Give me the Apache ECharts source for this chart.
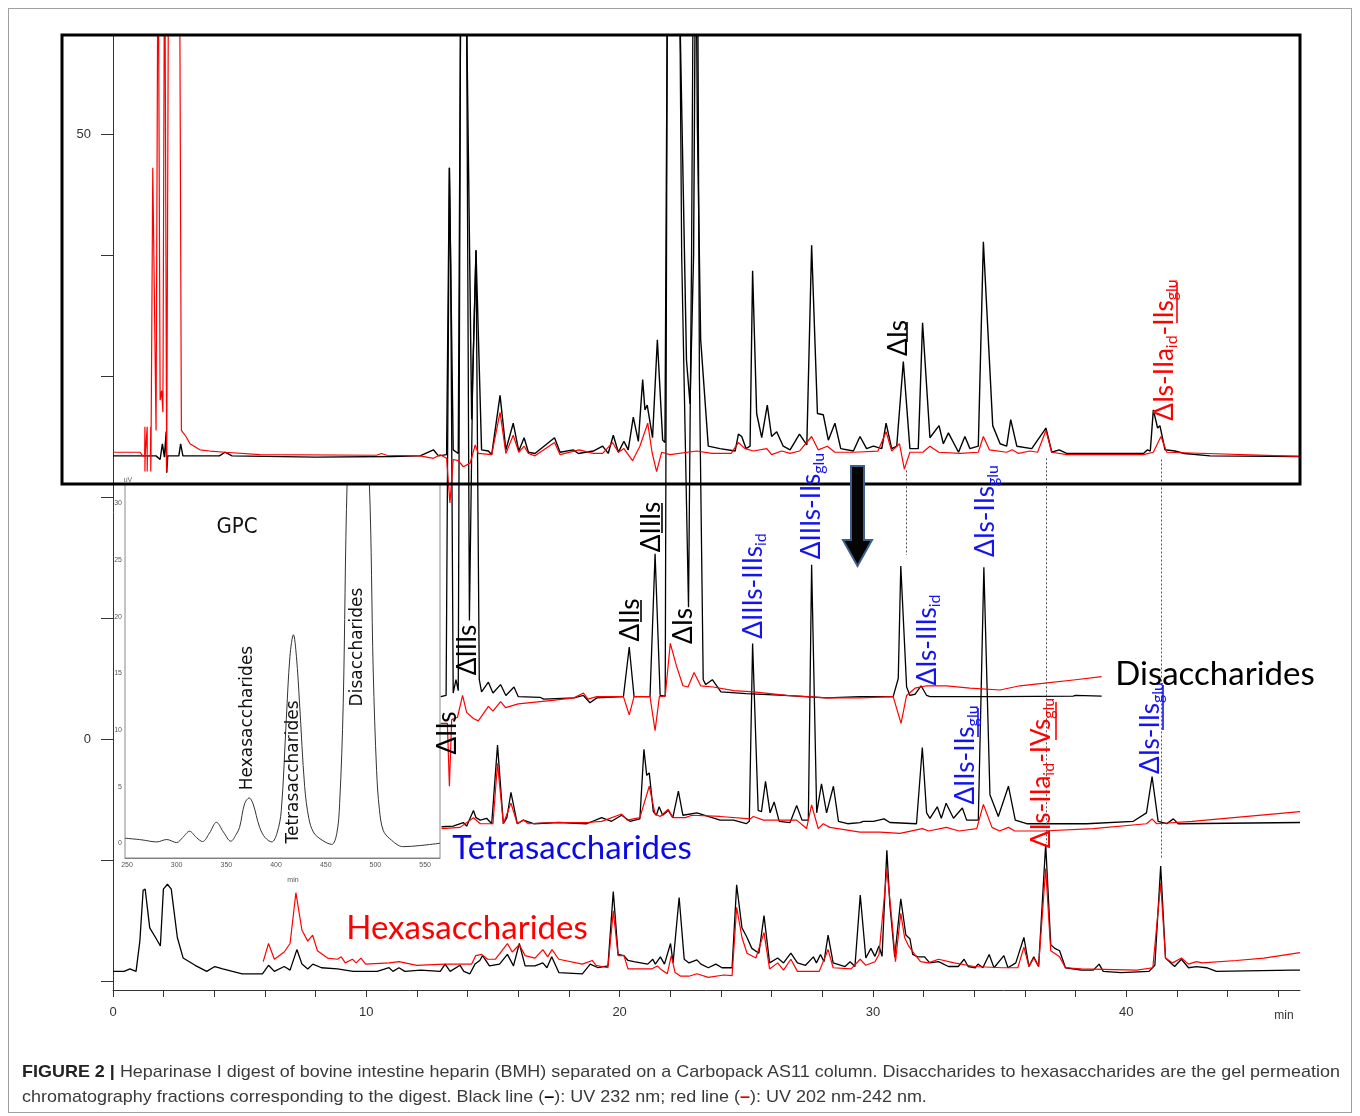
<!DOCTYPE html>
<html><head><meta charset="utf-8">
<script src="https://cdn.jsdelivr.net/npm/echarts@6/dist/echarts.min.js"></script>
<style>
html,body{margin:0;padding:0;background:#fff;}
#chart{position:absolute;left:0;top:0;width:1360px;height:1116px;}
#frame{position:absolute;left:8px;top:8px;width:1344px;height:1105px;border:1px solid #a0a0a0;box-sizing:border-box;pointer-events:none;}
.cap{position:absolute;left:22px;white-space:nowrap;font-family:'Liberation Sans Narrow','Liberation Sans',Arial,sans-serif;font-size:17px;line-height:20px;color:#3a3a3a;transform-origin:0 50%;}
.cap b.fig{color:#222;}
</style></head>
<body>
<div id="chart"></div>
<div id="frame"></div>
<div class="cap" id="cap1" style="top:1062px"><b class="fig">FIGURE 2 |</b> Heparinase I digest of bovine intestine heparin (BMH) separated on a Carbopack AS11 column. Disaccharides to hexasaccharides are the gel permeation</div>
<div class="cap" id="cap2" style="top:1087px">chromatography fractions corresponding to the digest. Black line (<b style="color:#000">&#8211;</b>): UV 232 nm; red line (<b style="color:#e00000">&#8211;</b>): UV 202 nm-242 nm.</div>
<script>
// ---------------- DATA (time in min, signal) ----------------
const topBlack = [[0,23.4],[1.7,23.4],[1.86,23.1],[1.95,24.4],[2.03,23.3],[2.1,25.4],[2.12,22.0],[2.16,23.4],[2.6,23.4],[2.67,24.4],[2.76,23.4],[4.2,23.4],[4.42,23.7],[4.7,23.4],[8,23.3],[11,23.35],[12.12,23.4],[12.65,23.9],[12.85,23.4],[13.17,23.5],[13.28,47.2],[13.33,39.3],[13.43,23.9],[13.63,23.6],[13.72,60],[13.84,95],[13.96,60],[14.16,26.4],[14.33,40.4],[14.55,23.9],[14.82,23.8],[14.95,23.5],[15.28,28.4],[15.51,23.9],[15.8,26.1],[16.02,23.8],[16.23,24.9],[16.4,23.7],[16.66,23.6],[17.43,24.9],[17.65,23.7],[18.17,23.9],[18.37,23.6],[18.96,23.8],[19.33,24.2],[19.55,23.6],[19.75,25.1],[19.95,23.7],[20.17,24.6],[20.34,23.9],[20.54,26.6],[20.74,24.6],[20.91,29.7],[21.0,27.2],[21.09,27.6],[21.3,24.9],[21.49,33.0],[21.7,24.7],[21.79,24.5],[21.88,60],[22.1,95],[22.38,60],[22.64,31.3],[22.78,27.7],[22.92,40],[22.98,60],[23.03,62],[23.07,50.7],[23.2,33],[23.5,24.2],[23.96,24.0],[24.56,23.8],[24.69,25.2],[24.82,25.0],[24.99,24.0],[25.15,24.2],[25.25,38.7],[25.41,26.9],[25.61,24.9],[25.83,27.6],[26.0,25.0],[26.2,25.4],[26.46,24.2],[26.73,23.9],[27.1,25.2],[27.39,24.3],[27.58,40.8],[27.81,26.9],[28.04,26.8],[28.24,24.7],[28.5,26.1],[28.73,24.0],[29.23,23.8],[29.49,25.0],[29.75,24.0],[30.02,24.2],[30.35,24.0],[30.52,26.1],[30.74,24.0],[30.94,24.2],[31.2,31.2],[31.46,24.0],[31.79,24.0],[31.96,34.4],[32.25,24.9],[32.61,25.9],[32.78,24.4],[32.98,25.3],[33.38,23.7],[33.63,25.0],[33.83,24.0],[34.16,24.2],[34.36,41.1],[34.73,25.9],[35.02,24.4],[35.28,24.2],[35.44,26.4],[35.68,24.2],[36.27,24.0],[36.83,25.7],[37.06,23.7],[37.35,23.9],[37.65,23.6],[40.68,23.6],[40.84,23.9],[40.95,23.8],[41.07,27.2],[41.24,25.7],[41.33,25.9],[41.53,23.9],[41.92,23.8],[42.3,23.6],[43.31,23.4],[46.86,23.35]];
const topRed = [[0,23.7],[1.07,23.7],[1.17,23.4],[1.25,23.4],[1.26,25.8],[1.26,22.1],[1.27,23.4],[1.34,23.4],[1.35,25.8],[1.35,22.1],[1.36,23.4],[1.48,23.4],[1.49,25.8],[1.49,22.1],[1.5,23.4],[1.57,47.2],[1.70,25.5],[1.78,70],[1.86,28],[1.92,28.8],[1.97,27],[2.04,70],[2.12,22.1],[2.2,70],[2.62,70],[2.7,25.5],[2.88,25.0],[3.04,24.4],[3.43,23.9],[3.83,23.8],[4.42,23.7],[5.8,23.5],[10.4,23.45],[10.6,23.6],[10.8,23.45],[12.12,23.4],[12.65,23.2],[12.91,23.5],[13.17,23.2],[13.3,19.5],[13.43,23.1],[13.63,23.0],[13.83,22.5],[14.1,22.8],[14.3,24.3],[14.42,23.6],[14.95,23.5],[15.28,27.0],[15.51,23.6],[15.8,25.1],[16.02,23.7],[16.23,24.2],[16.4,23.6],[16.66,23.4],[17.43,24.5],[17.65,23.5],[18.4,23.9],[18.96,23.6],[19.33,23.6],[19.72,24.5],[19.95,23.7],[20.17,24.0],[20.51,23.0],[20.8,24.2],[21.11,26.1],[21.28,23.7],[21.46,22.1],[21.66,23.7],[21.99,23.5],[23.04,23.8],[23.64,23.6],[24.4,23.6],[24.69,24.5],[24.95,24.0],[25.28,23.8],[25.81,24.0],[26.0,23.5],[26.4,23.8],[26.73,23.6],[27.1,23.8],[27.58,25.0],[27.84,23.9],[28.2,24.2],[28.5,23.7],[29.23,23.7],[30.2,23.8],[30.52,25.4],[30.74,23.8],[31.05,24.4],[31.24,22.3],[31.46,23.7],[31.97,23.7],[32.25,24.2],[32.6,23.7],[33.45,23.6],[34.16,23.7],[34.36,25.0],[34.6,23.9],[35.28,23.7],[35.5,23.9],[35.75,23.6],[36.2,23.8],[36.5,23.7],[36.83,25.5],[37.06,23.7],[37.65,23.5],[40.68,23.5],[41.07,23.7],[41.37,25.0],[41.6,23.7],[46.86,23.35]];
const diBlack = [[12.94,3.5],[13.15,3.6],[13.28,47.2],[13.33,39.3],[13.43,3.8],[13.54,4.9],[13.63,4.0],[13.72,60],[13.84,95],[13.96,60],[14.07,9.8],[14.2,30],[14.33,40.4],[14.46,4.9],[14.55,3.9],[14.82,4.7],[15.0,3.8],[15.3,4.5],[15.51,3.6],[15.83,4.3],[16.0,3.5],[16.86,3.45],[17.0,3.3],[18.2,3.4],[18.57,3.6],[18.83,3.0],[19.1,3.4],[20.15,3.5],[20.38,7.6],[20.57,3.5],[21.2,3.5],[21.4,15.3],[21.6,3.6],[21.8,3.55],[21.88,60],[22.1,95],[22.38,60],[22.45,40],[22.72,10.9],[22.84,40],[22.95,80],[23.05,80],[23.15,30],[23.3,4.9],[23.4,4.5],[23.66,4.9],[24.0,3.9],[25.0,3.75],[26.5,3.6],[28.17,3.4],[29.49,3.5],[30.8,3.5],[31.0,5],[31.1,14.3],[31.33,4.3],[31.46,3.6],[31.66,3.7],[31.9,4.4],[32.12,3.6],[32.25,3.5],[35.0,3.5],[37.9,3.55],[38.0,3.6],[39.03,3.55]];
const diRed = [[12.94,1.3],[13.2,1.3],[13.28,-3.9],[13.37,1.6],[13.6,1.8],[13.8,3.6],[13.96,2.2],[14.23,1.7],[14.42,1.5],[14.82,2.7],[15.0,2.3],[15.3,3.1],[15.5,2.6],[16.0,2.9],[17.35,3.2],[18.2,3.4],[18.57,3.8],[18.75,3.3],[19.1,3.5],[20.15,3.5],[20.38,2.0],[20.57,3.5],[21.2,3.5],[21.4,0.7],[21.57,3.5],[21.8,3.55],[22.0,7.9],[22.25,6.0],[22.5,4.4],[22.7,4.3],[22.94,5.5],[23.2,4.4],[23.7,4.3],[24.5,4.0],[25.28,3.9],[26.6,3.6],[28.17,3.4],[29.49,3.4],[30.8,3.5],[31.11,1.3],[31.33,3.6],[31.66,4.2],[32.12,4.4],[32.9,4.4],[33.83,4.2],[35.02,4.05],[35.8,4.4],[36.7,4.6],[38.0,4.9],[39.03,5.15]];
const tetraBlack = [[12.97,-7.25],[13.43,-7.2],[13.83,-6.9],[13.96,-7.2],[14.23,-5.9],[14.33,-6.5],[14.5,-6.7],[14.75,-6.55],[14.95,-7.0],[15.18,-0.5],[15.41,-7.0],[15.55,-6.5],[15.71,-4.4],[15.96,-7.0],[16.2,-6.7],[16.6,-7.0],[17.6,-6.9],[18.7,-7.0],[19.29,-6.5],[19.68,-6.8],[20.08,-6.3],[20.41,-6.8],[20.8,-6.6],[20.96,-0.85],[21.07,-3.0],[21.17,-2.8],[21.33,-6.0],[21.45,-6.3],[21.56,-5.6],[21.7,-6.3],[21.92,-5.9],[22.1,-6.5],[22.32,-4.3],[22.5,-6.3],[23.05,-6.1],[23.97,-6.7],[24.5,-6.7],[25.0,-7.0],[25.12,-6.8],[25.25,7.9],[25.47,-5.9],[25.6,-6.0],[25.76,-3.5],[25.94,-6.1],[26.1,-5.2],[26.3,-6.8],[26.73,-6.9],[26.99,-5.5],[27.2,-6.7],[27.45,-6.7],[27.58,14.4],[27.78,-6.1],[27.97,-3.7],[28.17,-6.1],[28.44,-3.9],[28.64,-6.8],[29.0,-7.0],[29.49,-6.9],[29.62,-6.8],[30.02,-6.8],[30.44,-6.6],[30.67,-6.9],[31.72,-7.0],[31.95,-0.7],[32.12,-6.1],[32.25,-6.55],[32.54,-5.6],[32.7,-6.55],[32.89,-5.3],[33.18,-6.55],[33.53,-5.7],[33.7,-6.7],[34.16,-6.7],[34.38,14.2],[34.62,-4.6],[34.95,-6.4],[35.35,-3.9],[35.62,-6.7],[36.07,-7.0],[38.43,-7.0],[40.28,-6.8],[40.8,-6.1],[41.02,-3.1],[41.26,-6.8],[41.6,-7.0],[41.86,-6.6],[42.05,-7.0],[46.86,-6.9]];
const tetraRed = [[12.97,-7.4],[13.7,-7.3],[14.23,-6.5],[14.5,-7.0],[15.0,-7.0],[15.18,-2.0],[15.41,-7.0],[15.71,-5.3],[15.96,-7.0],[16.2,-6.7],[16.4,-7.0],[17.35,-6.9],[18.7,-6.9],[19.29,-6.8],[20.08,-6.2],[20.3,-6.7],[20.8,-6.5],[21.17,-3.9],[21.4,-6.2],[21.6,-6.4],[21.92,-5.8],[22.1,-6.5],[22.6,-6.5],[22.85,-6.3],[23.97,-6.4],[25.15,-6.6],[25.28,-6.4],[25.68,-6.7],[26.99,-6.7],[27.38,-7.4],[27.58,-5.45],[27.84,-7.4],[28.04,-7.0],[28.3,-7.3],[29.49,-7.7],[30.28,-7.7],[31.07,-7.8],[31.95,-7.4],[32.2,-7.6],[32.9,-7.3],[33.4,-7.6],[34.1,-7.4],[34.36,-5.4],[34.7,-7.3],[35.0,-7.6],[35.35,-7.3],[35.6,-7.6],[36.7,-7.6],[38.7,-7.4],[40.8,-7.0],[41.02,-6.6],[41.2,-7.0],[42.6,-6.8],[46.86,-6.0]];
const hexaBlack = [[0,-19.2],[0.44,-19.2],[0.67,-19.0],[0.91,-19.2],[1.06,-16.7],[1.19,-12.5],[1.27,-12.4],[1.45,-15.6],[1.68,-16.4],[1.87,-17.1],[1.99,-12.4],[2.15,-12.0],[2.3,-12.4],[2.54,-16.4],[2.77,-18.1],[3.24,-18.7],[3.7,-19.2],[4.02,-18.8],[4.33,-19.0],[5.1,-19.4],[5.9,-19.4],[6.14,-18.7],[6.37,-19.2],[6.76,-18.8],[6.99,-19.1],[7.26,-17.4],[7.46,-18.6],[7.69,-19.0],[7.89,-18.6],[8.23,-18.9],[8.86,-19.0],[9.48,-19.2],[10.43,-19.2],[10.9,-18.9],[11.05,-19.2],[11.29,-18.9],[11.52,-19.2],[12.14,-19.1],[12.92,-19.2],[13.11,-18.6],[13.31,-19.2],[13.7,-18.7],[13.85,-19.2],[14.09,-19.4],[14.29,-18.6],[14.48,-18.3],[14.59,-17.9],[14.86,-18.75],[15.26,-18.6],[15.57,-17.8],[15.81,-18.75],[16.04,-16.9],[16.27,-18.75],[16.66,-18.75],[16.97,-18.5],[17.13,-18.9],[17.32,-18.0],[17.6,-19.3],[18.53,-19.4],[18.84,-18.6],[19.15,-18.9],[19.54,-18.75],[19.75,-12.6],[19.94,-17.8],[20.17,-17.9],[20.33,-18.3],[20.56,-18.4],[21.11,-18.6],[21.31,-18.2],[21.41,-18.6],[21.61,-18.0],[21.77,-18.6],[22.01,-16.9],[22.11,-18.5],[22.35,-13.1],[22.55,-18.2],[22.74,-18.5],[23.05,-18.25],[23.21,-18.6],[23.5,-18.9],[23.8,-18.6],[24.04,-18.9],[24.44,-18.9],[24.62,-12.05],[24.83,-15.6],[25.03,-16.4],[25.22,-17.3],[25.5,-17.7],[25.7,-14.6],[25.92,-18.5],[26.24,-18.1],[26.47,-18.5],[26.76,-17.7],[27.02,-18.5],[27.34,-18.7],[27.65,-18.0],[27.77,-18.5],[27.93,-17.8],[28.07,-18.4],[28.23,-16.2],[28.43,-18.5],[28.9,-18.8],[29.1,-18.4],[29.29,-18.8],[29.5,-12.9],[29.72,-18.1],[29.92,-17.3],[30.08,-17.96],[30.24,-17.1],[30.36,-17.96],[30.55,-9.2],[30.67,-13.7],[30.86,-18.0],[31.1,-13.2],[31.3,-16.2],[31.46,-16.5],[31.57,-17.8],[31.77,-18.0],[32.04,-18.0],[32.24,-18.5],[32.59,-18.4],[32.98,-18.8],[33.37,-18.8],[33.6,-18.2],[33.76,-18.8],[34.04,-18.9],[34.15,-18.6],[34.34,-18.9],[34.59,-17.8],[34.78,-18.9],[35.17,-17.9],[35.33,-18.9],[35.64,-18.5],[35.96,-16.4],[36.16,-18.8],[36.35,-18.0],[36.54,-18.8],[36.82,-8.7],[37.02,-17.0],[37.18,-17.3],[37.37,-17.5],[37.6,-18.9],[38.23,-19.1],[38.7,-19.1],[38.93,-18.6],[39.09,-19.2],[39.8,-19.3],[40.9,-19.2],[41.13,-18.7],[41.36,-10.5],[41.55,-18.1],[41.91,-18.8],[42.18,-18.2],[42.46,-18.9],[42.77,-18.8],[43.17,-18.9],[43.56,-19.2],[46.54,-19.1],[46.86,-19.1]];
const hexaRed = [[5.93,-18.4],[6.14,-16.9],[6.37,-18.2],[6.76,-17.6],[6.99,-16.9],[7.22,-12.7],[7.46,-15.8],[7.69,-16.7],[7.88,-16.2],[8.07,-17.5],[8.47,-18.1],[8.86,-18.2],[9.01,-18.0],[9.17,-18.5],[9.45,-18.2],[9.6,-18.5],[9.79,-18.1],[9.97,-18.6],[10.9,-18.5],[11.29,-18.4],[11.99,-18.7],[13.09,-18.6],[14.16,-18.6],[14.32,-17.9],[14.55,-17.8],[14.79,-18.2],[15.09,-18.2],[15.57,-16.9],[15.76,-17.6],[16.04,-17.0],[16.27,-17.9],[16.66,-18.1],[16.97,-17.4],[17.16,-18.0],[17.33,-17.4],[17.6,-18.2],[18.53,-18.6],[18.92,-18.3],[19.07,-18.7],[19.54,-18.9],[19.75,-14.2],[19.94,-17.9],[20.17,-17.9],[20.33,-19.0],[20.64,-19.0],[21.26,-19.0],[21.49,-18.75],[21.61,-19.0],[21.88,-19.4],[22.04,-17.9],[22.19,-19.3],[22.41,-19.6],[22.74,-19.6],[23.05,-19.4],[23.5,-19.7],[24.12,-19.5],[24.44,-19.55],[24.62,-13.9],[24.83,-16.4],[25.03,-17.7],[25.38,-18.1],[25.7,-16.0],[25.92,-19.0],[26.24,-18.5],[26.47,-19.1],[26.76,-18.2],[27.02,-19.2],[27.88,-19.2],[28.23,-17.4],[28.43,-18.9],[29.14,-19.0],[29.5,-18.2],[29.72,-18.7],[30.08,-18.4],[30.24,-17.8],[30.55,-10.8],[30.74,-14.8],[30.89,-18.4],[31.1,-14.4],[31.25,-16.4],[31.41,-17.1],[31.65,-17.8],[31.88,-18.4],[32.19,-18.5],[32.59,-18.2],[33.21,-18.5],[34.0,-18.8],[35.09,-18.9],[35.72,-18.9],[35.96,-17.2],[36.16,-18.8],[36.35,-18.1],[36.54,-18.8],[36.82,-10.7],[37.02,-17.5],[37.37,-18.0],[37.6,-18.9],[38.23,-19.0],[40.42,-19.1],[41.05,-18.9],[41.36,-11.9],[41.55,-18.1],[41.83,-18.5],[42.18,-18.1],[42.46,-18.6],[42.77,-18.4],[43.0,-18.5],[44.34,-18.3],[45.44,-18.1],[46.86,-17.65]];
// GPC inset trace (time in min, uV)
const gpcTrace = [[248,0.45],[265,0.3],[280,0.12],[290,0.33],[300,0.06],[306,0.5],[313,1.06],[320,0.5],[326,0.15],[333,0.9],[340,1.85],[347,1.0],[354.5,0.18],[360,0.8],[363.3,1.4],[368.4,3.5],[373,4.0],[376.8,3.5],[383.5,1.4],[389,0.5],[395.7,0.12],[401,0.9],[405.3,2.9],[410.3,10.9],[414,16.5],[417.5,18.4],[420.5,16.5],[423.7,12.3],[428.8,5.0],[433,2.2],[437.5,1.0],[444.2,0.4],[456,-0.1],[461.1,0.85],[464,3.5],[467.6,12.3],[471.6,32],[476,38],[482,40],[488,38],[493.8,32],[497.8,15.2],[501.2,6.4],[504,3.0],[507.8,1.15],[514.5,0.4],[528,-0.3],[545,-0.2],[565,0.0]];
// dotted guide lines [time, from value, to value]
const guides = [[31.31,22.2,15.2],[36.83,23.2,-8.6],[41.38,23.1,-9.8]];
// ticks
const xTicks = [0,2,4,6,8,10,12,14,16,18,20,22,24,26,28,30,32,34,36,38,40,42,44,46];
const xLabels = [0,10,20,30,40];
const yTicks = [-20,-10,0,10,20,30,40,50];
const yLabels = [0,50];
const gpcXTicks = [250,260,270,280,290,300,310,320,330,340,350,360,370,380,390,400,410,420,430,440,450,460,470,480,490,500,510,520,530,540,550,560];
const gpcXLabels = [250,300,350,400,450,500,550];
const gpcYTicks = [0,1,2,3,4,5,6,7,8,9,10,11,12,13,14,15,16,17,18,19,20,21,22,23,24,25,26,27,28,29,30,31];
const gpcYLabels = [0,5,10,15,20,25,30];

// ---------------- annotation text ----------------
const BLUE = '#1414f0', RED = '#ff0000', BLK = '#000';
const peakLabels = [
  {t:'{m|ΔIs}', c:BLK, x:899, y:338},
  {t:'{m|ΔIs-IIa}{s|id}{m|-IIs}{s|glu}', c:RED, x:1165, y:350},
  {t:'{m|ΔIIs}', c:BLK, x:631, y:620},
  {t:'{m|ΔIIIs}', c:BLK, x:652, y:527},
  {t:'{m|ΔIs}', c:BLK, x:684, y:626},
  {t:'{m|ΔIIIs}', c:BLK, x:468, y:650},
  {t:'{m|ΔIIs}', c:BLK, x:448, y:733},
  {t:'{m|ΔIIIs-IIIs}{s|id}', c:BLUE, x:754, y:586},
  {t:'{m|ΔIIIs-IIs}{s|glu}', c:BLUE, x:812, y:506},
  {t:'{m|ΔIs-IIs}{s|glu}', c:BLUE, x:986, y:511},
  {t:'{m|ΔIs-IIIs}{s|id}', c:BLUE, x:928, y:640},
  {t:'{m|ΔIIs-IIs}{s|glu}', c:BLUE, x:966, y:755},
  {t:'{m|ΔIs-IIa}{s|id}{m|-IVs}{s|glu}', c:RED, x:1042, y:773},
  {t:'{m|ΔIs-IIs}{s|glu}', c:BLUE, x:1151, y:728}
];
const underlines = [
  [907,322,342,BLK],[1177,282,323,RED],[641,600,622,BLK],[662,503,533,BLK],
  [978,708,737,BLUE],[1056,702,740,RED],[1163,685,730,BLUE]
];

const chart = echarts.init(document.getElementById('chart'), null, {renderer:'canvas'});
const F = 'Lato, "Noto Sans", "DejaVu Sans", sans-serif';
const graphics = [];
peakLabels.forEach(l => {
  graphics.push({type:'text', x:l.x, y:l.y, rotation:Math.PI/2, z:100, silent:true,
    style:{text:l.t, align:'center', verticalAlign:'middle', fill:l.c,
      rich:{m:{fontSize:26, fontFamily:F, fill:l.c, color:l.c, lineHeight:30},
            s:{fontSize:16, fontFamily:F, fill:l.c, color:l.c, lineHeight:16, verticalAlign:'bottom'}}}});
});
underlines.forEach(u => {
  graphics.push({type:'line', z:100, silent:true, shape:{x1:u[0], y1:u[1], x2:u[0], y2:u[2]}, style:{stroke:u[3], lineWidth:1.6}});
});
// big fraction labels
graphics.push({type:'text', x:1215, y:674, z:100, style:{text:'Disaccharides', font:'33px '+F, fill:'#000', align:'center', verticalAlign:'middle'}});
graphics.push({type:'text', x:572, y:848, z:100, style:{text:'Tetrasaccharides', font:'33px '+F, fill:'#0a0ae6', align:'center', verticalAlign:'middle'}});
graphics.push({type:'text', x:467, y:928, z:100, style:{text:'Hexasaccharides', font:'33px '+F, fill:'#ff0000', align:'center', verticalAlign:'middle'}});
// inset texts
const FI = '"DejaVu Sans", Verdana, sans-serif';
graphics.push({type:'text', x:237, y:527, z:100, style:{text:'GPC', font:'22px "DejaVu Sans Condensed","Liberation Sans Narrow",sans-serif', fill:'#111', align:'center', verticalAlign:'middle'}});
graphics.push({type:'text', x:248, y:718, rotation:Math.PI/2, z:100, style:{text:'Hexasaccharides', font:'17px '+FI, fill:'#111', align:'center', verticalAlign:'middle'}});
graphics.push({type:'text', x:294, y:772, rotation:Math.PI/2, z:100, style:{text:'Tetrasaccharides', font:'17px '+FI, fill:'#111', align:'center', verticalAlign:'middle'}});
graphics.push({type:'text', x:358, y:647, rotation:Math.PI/2, z:100, style:{text:'Disaccharides', font:'17px '+FI, fill:'#111', align:'center', verticalAlign:'middle'}});
graphics.push({type:'text', x:128, y:480, z:100, style:{text:'uV', font:'7px sans-serif', fill:'#666', align:'center', verticalAlign:'middle'}});
graphics.push({type:'text', x:293, y:880, z:100, style:{text:'min', font:'7px sans-serif', fill:'#555', align:'center', verticalAlign:'middle'}});
graphics.push({type:'text', x:1284, y:1016, z:100, style:{text:'min', font:'12px "Liberation Sans", Arial, sans-serif', fill:'#333', align:'center', verticalAlign:'middle'}});
// boxed whole-digest region
graphics.push({type:'rect', z:90, silent:true, shape:{x:62, y:35, width:1238, height:449}, style:{fill:'none', stroke:'#000', lineWidth:3}});
// arrow
graphics.push({type:'polygon', z:95, silent:true, shape:{points:[[851,466],[864,466],[864,540],[872,540],[857.5,566],[843,540],[851,540]]}, style:{fill:'#050505', stroke:'#3d5f8a', lineWidth:2}});

function lineSeries(data, color, width, z, extra) {
  return Object.assign({type:'line', data, showSymbol:false, symbol:'none', xAxisIndex:0, yAxisIndex:0,
    lineStyle:{color, width}, itemStyle:{color}, z, animation:false, silent:true, clip:true}, extra||{});
}

const option = {
  animation:false,
  backgroundColor:'#fff',
  grid:[
    {left:113, top:35, width:1187, height:955, containLabel:false},
    {left:125, top:484, width:315, height:374, show:true, backgroundColor:'#fff', borderColor:'#8a8a8a', borderWidth:1, z:1}
  ],
  xAxis:[
    {type:'value', gridIndex:0, min:0, max:46.86,
      axisLine:{onZero:false, lineStyle:{color:'#333', width:1}},
      axisTick:{customValues:xTicks, length:7, lineStyle:{color:'#333'}},
      axisLabel:{customValues:xLabels, fontSize:13, color:'#333', margin:16, fontFamily:'"Liberation Sans", Arial, sans-serif'},
      splitLine:{show:false}},
    {type:'value', gridIndex:1, min:248, max:565,
      axisLine:{onZero:false, lineStyle:{color:'#777', width:1}},
      axisTick:{customValues:gpcXTicks, length:3, inside:true, lineStyle:{color:'#777'}},
      axisLabel:{customValues:gpcXLabels, fontSize:7, color:'#555', margin:4},
      splitLine:{show:false}}
  ],
  yAxis:[
    {type:'value', gridIndex:0, min:-20.74, max:58.18,
      axisLine:{show:true, onZero:false, lineStyle:{color:'#333', width:1}},
      axisTick:{show:true, customValues:yTicks, length:12, lineStyle:{color:'#333'}},
      axisLabel:{customValues:yLabels, fontSize:13, color:'#333', margin:22, fontFamily:'"Liberation Sans", Arial, sans-serif'},
      splitLine:{show:false}},
    {type:'value', gridIndex:1, min:-1.3, max:31.7,
      axisLine:{show:true, onZero:false, lineStyle:{color:'#777', width:1}},
      axisTick:{show:true, customValues:gpcYTicks, length:2, inside:true, lineStyle:{color:'#888'}},
      axisLabel:{customValues:gpcYLabels, fontSize:7, color:'#555', margin:3},
      splitLine:{show:false}}
  ],
  series:[
    lineSeries(hexaBlack, '#000', 1.3, 3),
    lineSeries(hexaRed, '#ff0000', 1.2, 4),
    lineSeries(tetraBlack, '#000', 1.3, 3),
    lineSeries(tetraRed, '#ff0000', 1.2, 4),
    lineSeries(diBlack, '#000', 1.3, 3),
    lineSeries(diRed, '#ff0000', 1.2, 4),
    lineSeries(topBlack, '#000', 1.4, 3, {
      markLine:{silent:true, symbol:['none','none'], label:{show:false}, animation:false,
        lineStyle:{type:[2,2], color:'#555', width:1},
        data: guides.map(g => [{coord:[g[0], g[1]]}, {coord:[g[0], g[2]]}])}
    }),
    lineSeries(topRed, '#ff0000', 1.2, 4),
    {type:'line', data:gpcTrace, xAxisIndex:1, yAxisIndex:1, smooth:0.35, showSymbol:false, symbol:'none',
      lineStyle:{color:'#333', width:1}, z:5, animation:false, silent:true, clip:true}
  ],
  graphic:{elements:graphics}
};
chart.setOption(option);

// fit caption to the reference line width
(function(){
  const c1 = document.getElementById('cap1'), c2 = document.getElementById('cap2');
  const w = c1.getBoundingClientRect().width;
  const k = 1318 / w;
  c1.style.transform = 'scaleX(' + k + ')';
  c2.style.transform = 'scaleX(' + k + ')';
})();
</script>
</body></html>
